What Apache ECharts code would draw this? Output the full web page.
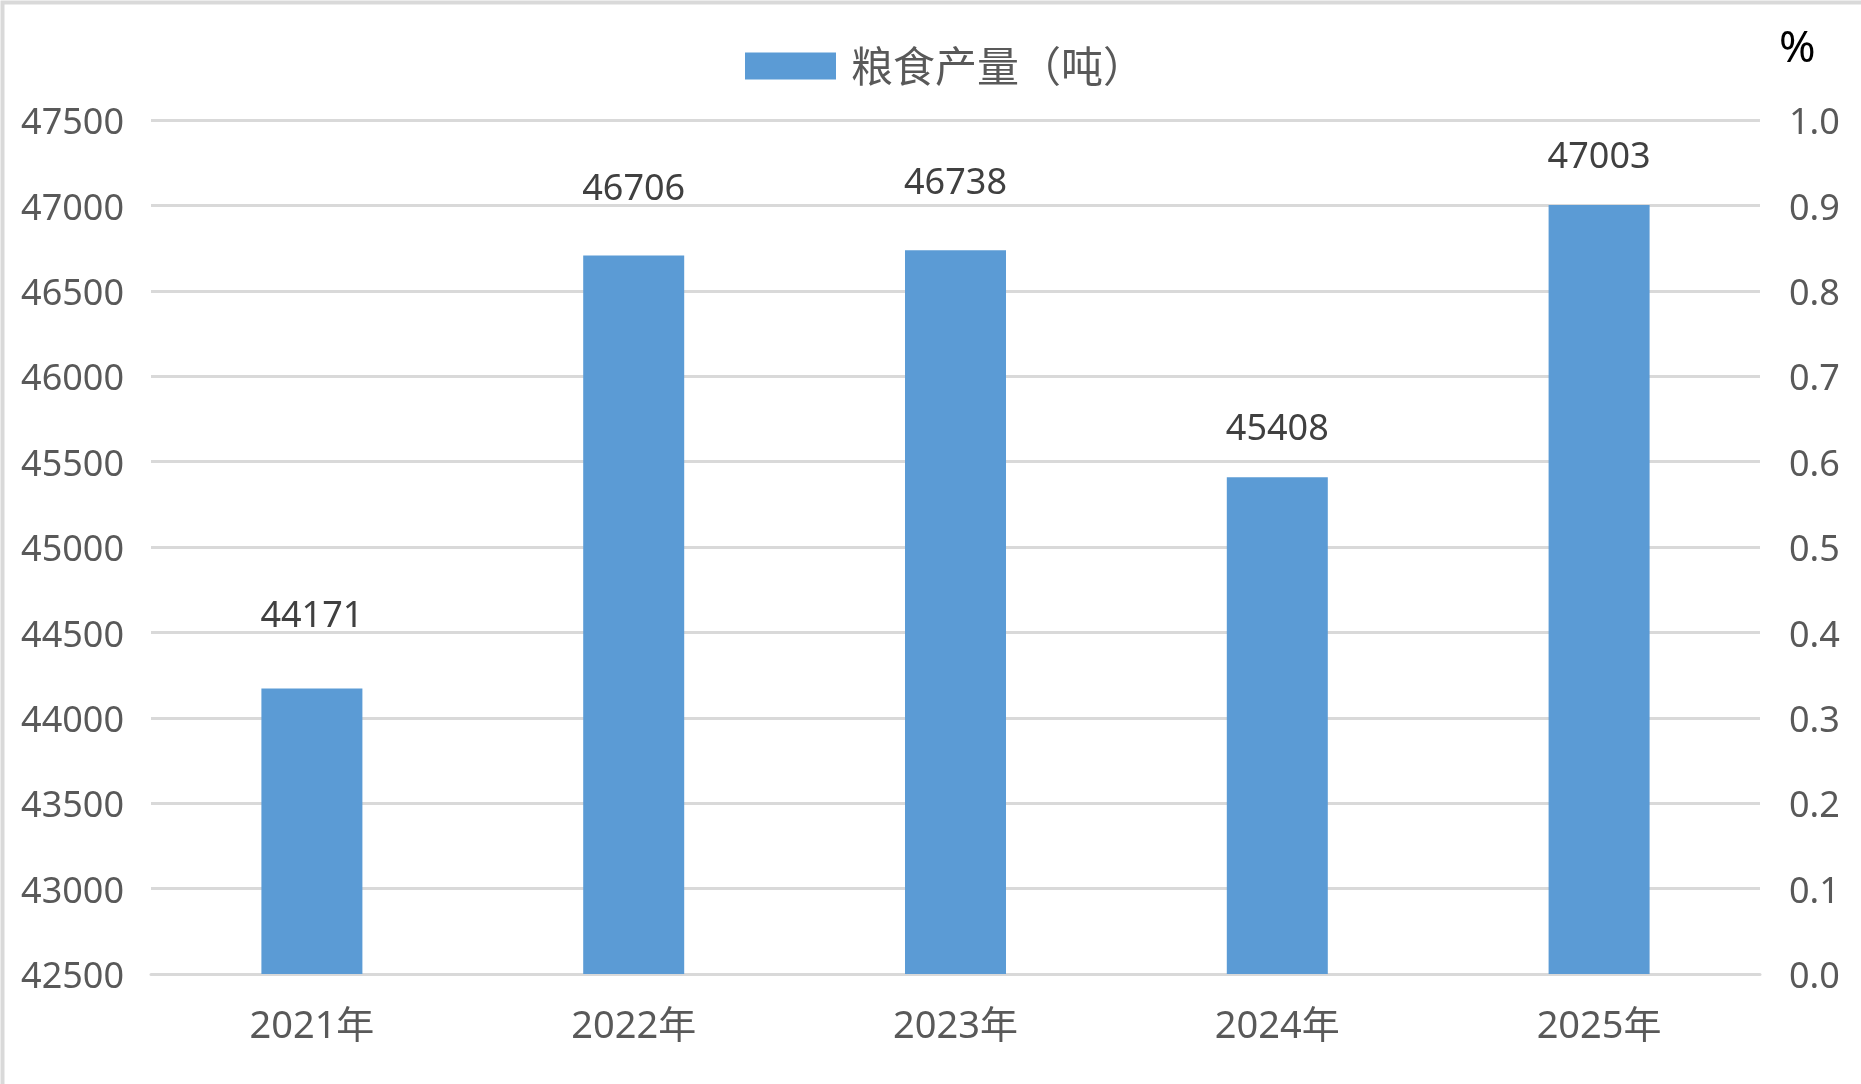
<!DOCTYPE html>
<html><head><meta charset="utf-8">
<script src="https://cdn.jsdelivr.net/npm/echarts@6/dist/echarts.min.js"></script>
<style>html,body{margin:0;padding:0;background:#fff}#c{width:1861px;height:1084px}</style>
</head><body><div id="c"></div>
<script>
const categories = ['2021年','2022年','2023年','2024年','2025年'];
const grainOutput = [44171, 46706, 46738, 45408, 47003];
const seriesName = '粮食产量（吨）';
const leftAxis = {min: 42500, max: 47500, interval: 500};
const rightAxis = {min: 0, max: 1, interval: 0.1};
// label gap above each bar (style only, as placed in the original)
const labelGap = [54, 48, 48, 30, 29];

const chart = echarts.init(document.getElementById('c'));
const txt = '#595959';
const numFont = '"Noto Sans", "Open Sans", sans-serif';
const cjkFont = '"Noto Sans", "Noto Sans CJK SC", sans-serif';
const tickRich = {a: {fontSize: 36, color: txt, fontFamily: numFont, padding: [8, 0, 0, 0]}};
chart.setOption({
  animation: false,
  backgroundColor: '#fff',
  grid: {left: 151, right: 101, top: 120, bottom: 110, containLabel: false},
  legend: {
    data: [seriesName], left: 740, top: 40, itemWidth: 91, itemHeight: 27,
    icon: 'rect',
    textStyle: {fontSize: 42, color: txt, fontFamily: '"Noto Sans CJK SC", sans-serif', padding: [0,0,0,10]}
  },
  graphic: [
    {type: 'rect', left: 0, top: 0, shape: {width: 1861, height: 1084},
     style: {fill: 'none', stroke: '#d9d9d9', lineWidth: 4}, silent: true},
    {type: 'text', left: 1779, top: 27,
     style: {text: '%', fontSize: 44, fill: '#000', fontFamily: numFont}}
  ],
  xAxis: {
    type: 'category', data: categories,
    axisLine: {show: true, lineStyle: {color: '#d9d9d9', width: 3}},
    axisTick: {show: false},
    axisLabel: {fontSize: 38, color: txt, fontFamily: cjkFont, margin: 34}
  },
  yAxis: [
    {type: 'value', min: leftAxis.min, max: leftAxis.max, interval: leftAxis.interval,
     axisLine: {show: false}, axisTick: {show: false},
     splitLine: {lineStyle: {color: '#d9d9d9', width: 3}},
     axisLabel: {margin: 27, rich: tickRich, formatter: v => '{a|' + v + '}'}},
    {type: 'value', position: 'right', min: rightAxis.min, max: rightAxis.max, interval: rightAxis.interval,
     axisLine: {show: false}, axisTick: {show: false}, splitLine: {show: false},
     axisLabel: {margin: 29, rich: tickRich, formatter: v => '{a|' + v.toFixed(1) + '}'}}
  ],
  series: [{
    name: seriesName, type: 'bar', barWidth: 101,
    data: grainOutput.map((v, i) => ({value: v, label: {distance: labelGap[i]}})),
    itemStyle: {color: '#5B9BD5'},
    label: {show: true, position: 'top', fontSize: 36, color: '#404040', fontFamily: numFont}
  }]
});
</script></body></html>
